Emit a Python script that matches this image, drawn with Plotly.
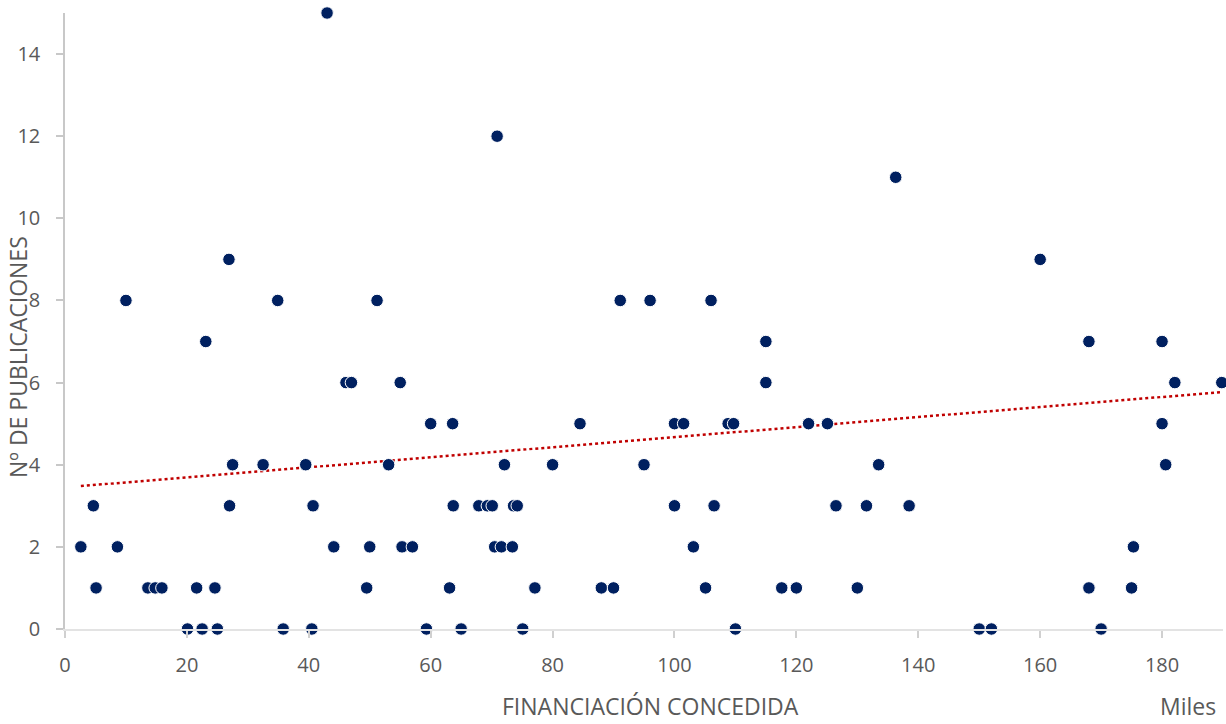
import plotly.graph_objects as go

# Financiación concedida (miles) and nº de publicaciones
financiacion = [
    43.0, 70.9, 136.3, 26.9, 160.0,
    10.0, 34.9, 51.2, 91.1, 96.0, 106.0,
    23.1, 115.0, 168.0, 180.0,
    46.1, 47.0, 55.0, 115.0, 182.1, 189.8,
    60.0, 63.6, 84.5, 100.0, 101.5, 108.8, 109.7, 122.0, 125.1, 180.0,
    27.5, 32.5, 39.5, 53.1, 72.1, 80.0, 95.0, 133.5, 180.6,
    4.65, 27.0, 40.7, 63.7, 67.9, 69.3, 70.1, 73.6, 74.2, 100.0, 106.5, 126.5, 131.5, 138.5,
    2.6, 8.6, 44.1, 50.0, 55.3, 57.0, 70.5, 71.6, 73.4, 103.1, 175.3,
    5.1, 13.6, 14.8, 15.9, 21.6, 24.6, 49.5, 63.1, 77.1, 88.0, 90.0, 105.1, 117.6, 120.0, 130.0, 168.0, 175.0,
    20.1, 22.5, 25.0, 35.8, 40.5, 59.3, 65.0, 75.1, 110.0, 150.0, 152.0, 170.0,
]
publicaciones = [
    15, 12, 11, 9, 9,
    8, 8, 8, 8, 8, 8,
    7, 7, 7, 7,
    6, 6, 6, 6, 6, 6,
    5, 5, 5, 5, 5, 5, 5, 5, 5, 5,
    4, 4, 4, 4, 4, 4, 4, 4, 4,
    3, 3, 3, 3, 3, 3, 3, 3, 3, 3, 3, 3, 3, 3,
    2, 2, 2, 2, 2, 2, 2, 2, 2, 2, 2,
    1, 1, 1, 1, 1, 1, 1, 1, 1, 1, 1, 1, 1, 1, 1, 1, 1,
    0, 0, 0, 0, 0, 0, 0, 0, 0, 0, 0, 0,
]
# Linear trend line (Excel trendline), endpoints
tendencia_x = [2.6, 189.8]
tendencia_y = [3.48, 5.77]

y_ticks = [0, 2, 4, 6, 8, 10, 12, 14]
x_ticks = [0, 20, 40, 60, 80, 100, 120, 140, 160, 180]

FONT = "Open Sans"
GREY = "#595959"

fig = go.Figure()
fig.add_trace(go.Scatter(
    x=tendencia_x, y=tendencia_y, mode="lines",
    line=dict(color="#C00000", width=2.5, dash="dot"),
    hoverinfo="skip", showlegend=False,
))
fig.add_trace(go.Scatter(
    x=financiacion, y=publicaciones, mode="markers",
    marker=dict(size=12.5, color="#002060", line=dict(color="white", width=1)),
    showlegend=False, cliponaxis=False,
))

L, R, T, B = 65, 3, 13, 95
PW = 1226 - L - R
PH = 724 - T - B

fig.update_layout(
    width=1226, height=724,
    margin=dict(l=L, r=R, t=T, b=B, autoexpand=False),
    paper_bgcolor="white", plot_bgcolor="white",
    font=dict(family=FONT, color=GREY, size=20),
    xaxis=dict(
        range=[0, 190], tickvals=x_ticks, showgrid=False, zeroline=False,
        showline=True, linecolor="#e3e3e3", linewidth=1.5,
        ticks="outside", ticklen=7, tickcolor="#d0d0d0", tickwidth=1.5,
        ticklabelstandoff=10, automargin=False,
        tickfont=dict(size=20, color=GREY, family=FONT),
    ),
    yaxis=dict(
        range=[0, 15], tickvals=y_ticks, showgrid=False, zeroline=False,
        showline=True, linecolor="#c8c8c8", linewidth=1.5,
        ticks="outside", ticklen=7, tickcolor="#c8c8c8", tickwidth=1.5,
        ticklabelstandoff=12, automargin=False,
        tickfont=dict(size=20, color=GREY, family=FONT),
    ),
    annotations=[
        dict(text="FINANCIACIÓN CONCEDIDA", xref="paper", yref="paper",
             x=(650 - L) / PW, y=-(706 - (724 - B)) / PH, xanchor="center", yanchor="middle",
             showarrow=False, font=dict(size=23, color=GREY, family=FONT)),
        dict(text="Miles", xref="paper", yref="paper",
             x=(1188 - L) / PW, y=-(706 - (724 - B)) / PH, xanchor="center", yanchor="middle",
             showarrow=False, font=dict(size=23, color=GREY, family=FONT)),
        dict(text="Nº DE PUBLICACIONES", xref="paper", yref="paper",
             x=-(L - 18) / PW, y=((724 - B) - 357) / PH, xanchor="center", yanchor="middle",
             textangle=-90, showarrow=False, font=dict(size=23, color=GREY, family=FONT)),
    ],
)

fig.write_html("out.html", config={"displayModeBar": False},
               post_script="document.body.style.margin='0px';")
